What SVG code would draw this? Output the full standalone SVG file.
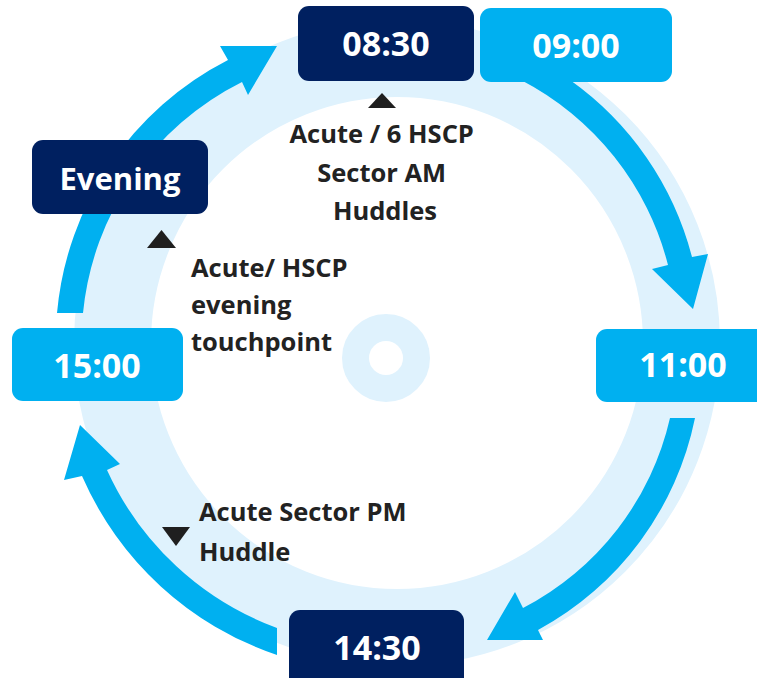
<svg xmlns="http://www.w3.org/2000/svg" width="757" height="678" viewBox="0 0 757 678">
  <defs>
    <style>
      .bg { fill: #ffffff; }
      .pale { fill: none; stroke: #DFF2FD; }
      .arrow { fill: #00B0F0; stroke: none; }
      .navy { fill: #002060; }
      .blue { fill: #00B0F0; }
      .time { font-family: "Open Sans", "Noto Sans", "Liberation Sans", sans-serif; font-weight: 700; font-size: 34px; fill: #ffffff; text-anchor: middle; }
      .lbl { font-family: "Open Sans", "Noto Sans", "Liberation Sans", sans-serif; font-weight: 700; font-size: 25.5px; fill: #222222; }
      .mark { fill: #1F1F1F; }
    </style>
  </defs>
  <rect class="bg" x="0" y="0" width="757" height="678"/>

  <g id="background-ring">
    <circle class="pale" cx="397" cy="343" r="284.5" stroke-width="77"/>
    <circle class="pale" cx="386" cy="358" r="30.5" stroke-width="27"/>
  </g>

  <g id="connectors">
    <path class="arrow" d="M 57,313 A 316 316 0 0 1 228,60 L 220,46 L 277,46 L 248,95 L 242,82 A 290 290 0 0 0 83,313 Z"/>
    <path class="arrow" d="M 521,80 L 570,80 A 313 313 0 0 1 692,257 L 708,254 L 693,309 L 652,269 L 668,265 A 289 289 0 0 0 521,80 Z"/>
    <path class="arrow" d="M 670,418 L 695,418 A 312 312 0 0 1 538,630 L 543,640 L 487,640 L 515,592 L 523,608 A 286 286 0 0 0 670,418 Z"/>
    <path class="arrow" d="M 277,655 A 326.5 326.5 0 0 1 82,476 L 64,480 L 80,425 L 120,464 L 107,470 A 301 301 0 0 0 277,628 Z"/>
  </g>

  <g id="node-0830">
    <rect class="navy" x="298" y="6" width="176" height="75" rx="11"/>
    <text class="time" x="386" y="56">08:30</text>
  </g>
  <g id="node-0900">
    <rect class="blue" x="480" y="8" width="192" height="74" rx="11"/>
    <text class="time" x="576" y="57.5">09:00</text>
  </g>
  <g id="node-1100">
    <rect class="blue" x="596" y="329" width="185" height="73" rx="11"/>
    <text class="time" x="683" y="377">11:00</text>
  </g>
  <g id="node-1430">
    <rect class="navy" x="289" y="610" width="175" height="90" rx="11"/>
    <text class="time" x="377" y="660">14:30</text>
  </g>
  <g id="node-1500">
    <rect class="blue" x="12" y="328" width="171" height="73" rx="11"/>
    <text class="time" x="97" y="378">15:00</text>
  </g>
  <g id="node-evening">
    <rect class="navy" x="32" y="140" width="176" height="74" rx="11"/>
    <text class="time" x="120" y="189.5" style="font-size:31px">Evening</text>
  </g>

  <g id="label-am">
    <polygon class="mark" points="368,108 396,108 382,93"/>
    <text class="lbl" text-anchor="middle">
      <tspan x="385" y="143">Acute / 6 HSCP</tspan>
      <tspan x="385" y="181.5">Sector AM</tspan>
      <tspan x="385" y="220">Huddles</tspan>
    </text>
  </g>
  <g id="label-evening">
    <polygon class="mark" points="147,248 176,248 161.5,230"/>
    <text class="lbl">
      <tspan x="191" y="277">Acute/ HSCP</tspan>
      <tspan x="191" y="314">evening</tspan>
      <tspan x="191" y="351">touchpoint</tspan>
    </text>
  </g>
  <g id="label-pm">
    <polygon class="mark" points="162,527 190,527 176,546"/>
    <text class="lbl">
      <tspan x="199" y="521">Acute Sector PM</tspan>
      <tspan x="199" y="561">Huddle</tspan>
    </text>
  </g>
</svg>
